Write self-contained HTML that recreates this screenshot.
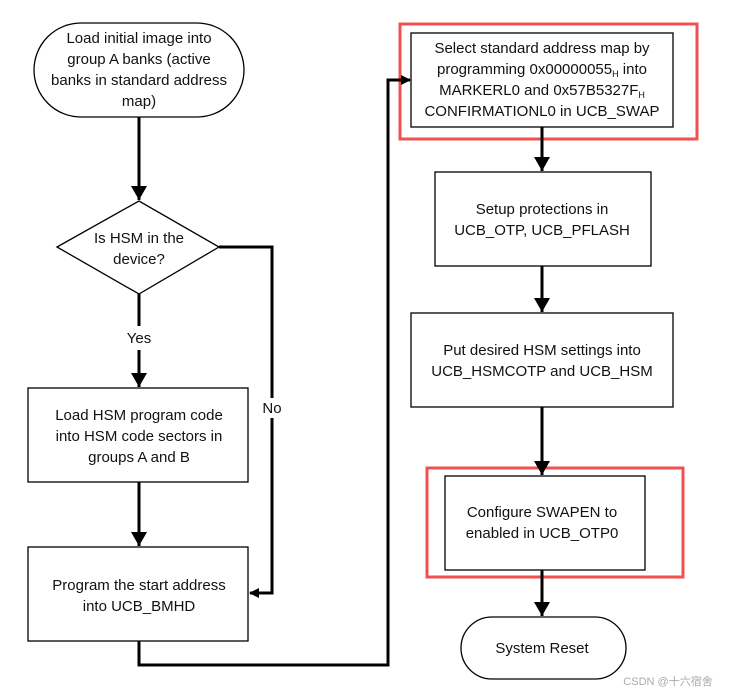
<!DOCTYPE html>
<html><head><meta charset="utf-8"><style>
html,body{margin:0;padding:0;background:#fff;}
svg{display:block}
text{font-family:"Liberation Sans","Noto Sans CJK SC",sans-serif;font-size:15px;fill:#111;text-anchor:middle}
</style></head><body>
<svg width="729" height="693" viewBox="0 0 729 693">
<defs><marker id="a" markerWidth="10" markerHeight="10" refX="9" refY="5" orient="auto" markerUnits="userSpaceOnUse"><path d="M0,0 L10,5 L0,10 z" fill="#000"/></marker>
<marker id="b" markerWidth="16" markerHeight="16" refX="14" refY="8" orient="auto" markerUnits="userSpaceOnUse"><path d="M0,0 L14,8 L0,16 z" fill="#000"/></marker></defs>
<g fill="#fff" stroke="#000" stroke-width="1.3">
<rect x="34" y="23" width="210" height="94" rx="47"/>
<polygon points="57,247 139,201 219,247 139,294"/>
<rect x="28" y="388" width="220" height="94"/>
<rect x="28" y="547" width="220" height="94"/>
<rect x="411" y="33" width="262" height="94"/>
<rect x="435" y="172" width="216" height="94"/>
<rect x="411" y="313" width="262" height="94"/>
<rect x="445" y="476" width="200" height="94"/>
<rect x="461" y="617" width="165" height="62" rx="31"/>
</g>
<g fill="none" stroke="#f05050" stroke-width="3">
<rect x="400" y="24" width="297" height="115"/>
<rect x="427" y="468" width="256" height="109"/>
</g>
<g fill="none" stroke="#000" stroke-width="3">
<line x1="139" y1="117" x2="139" y2="200" marker-end="url(#b)"/>
<polyline points="219,247 272,247 272,593 250,593" marker-end="url(#a)"/>
<line x1="139" y1="294" x2="139" y2="326"/>
<line x1="139" y1="350" x2="139" y2="387" marker-end="url(#b)"/>
<line x1="139" y1="482" x2="139" y2="546" marker-end="url(#b)"/>
<polyline points="139,641 139,665 388,665 388,80 410,80" marker-end="url(#a)"/>
<line x1="542" y1="127" x2="542" y2="171" marker-end="url(#b)"/>
<line x1="542" y1="266" x2="542" y2="312" marker-end="url(#b)"/>
<line x1="542" y1="407" x2="542" y2="475" marker-end="url(#b)"/>
<line x1="542" y1="570" x2="542" y2="616" marker-end="url(#b)"/>
</g>
<rect x="262" y="398" width="20" height="20" fill="#fff"/>
<text x="139" y="43">Load initial image into</text>
<text x="139" y="64">group A banks (active</text>
<text x="139" y="85">banks in standard address</text>
<text x="139" y="106">map)</text>
<text x="139" y="243">Is HSM in the</text>
<text x="139" y="264">device?</text>
<text x="139" y="343">Yes</text>
<text x="272" y="413">No</text>
<text x="139" y="420">Load HSM program code</text>
<text x="139" y="441">into HSM code sectors in</text>
<text x="139" y="462">groups A and B</text>
<text x="139" y="590">Program the start address</text>
<text x="139" y="611">into UCB_BMHD</text>
<text x="542" y="53">Select standard address map by</text>
<text x="542" y="74">programming 0x00000055<tspan font-size="9" dy="3">H</tspan><tspan dy="-3"> into</tspan></text>
<text x="542" y="95">MARKERL0 and 0x57B5327F<tspan font-size="9" dy="3">H</tspan></text>
<text x="542" y="116">CONFIRMATIONL0 in UCB_SWAP</text>
<text x="542" y="214">Setup protections in</text>
<text x="542" y="235">UCB_OTP, UCB_PFLASH</text>
<text x="542" y="355">Put desired HSM settings into</text>
<text x="542" y="376">UCB_HSMCOTP and UCB_HSM</text>
<text x="542" y="517">Configure SWAPEN to</text>
<text x="542" y="538">enabled in UCB_OTP0</text>
<text x="542" y="653">System Reset</text>
<text x="668" y="685" style="font-size:11px;fill:#aaa">CSDN @十六宿舍</text>
</svg>
</body></html>
